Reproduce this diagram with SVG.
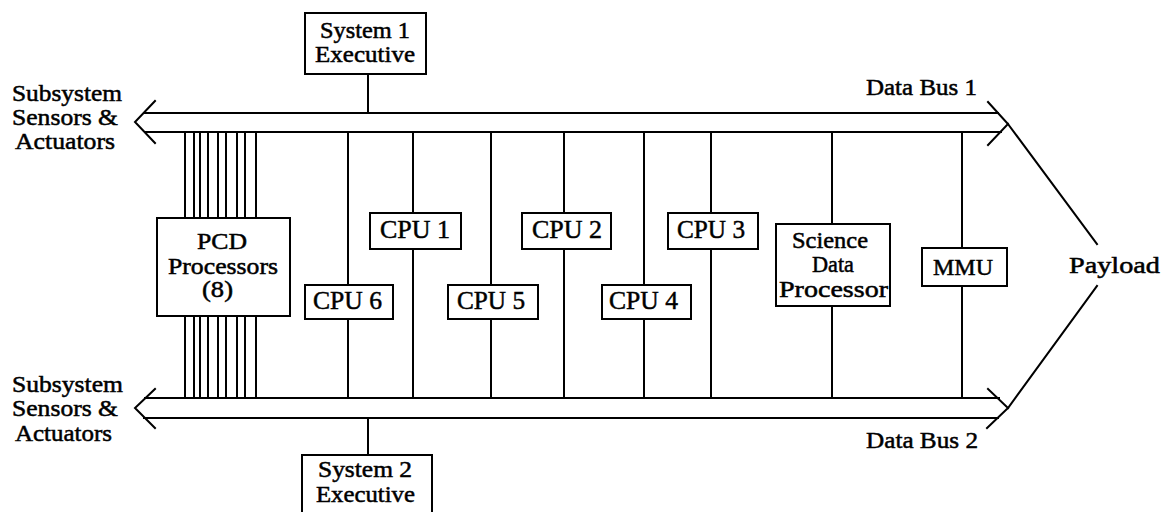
<svg xmlns="http://www.w3.org/2000/svg" width="1163" height="512" viewBox="0 0 1163 512">
<style>
.t{font-family:"Liberation Serif","Times New Roman",serif;font-size:23px;fill:#000;stroke:#000;stroke-width:0.5}
.c{font-size:26px}
.ln{stroke:#000;stroke-width:2;fill:none;stroke-linecap:square}
.bx{stroke:#000;stroke-width:2;fill:#fff}
</style>
<rect width="1163" height="512" fill="#fff"/>
<g id="connectors" class="ln">
  <line x1="144" y1="113" x2="998" y2="113"/>
  <line x1="145" y1="132" x2="1001" y2="132"/>
  <polyline points="155,101 135,122 155,143"/>
  <polyline points="988,102 1008,124 988,145"/>
  <line x1="145" y1="398" x2="999" y2="398"/>
  <line x1="144" y1="418" x2="998" y2="418"/>
  <polyline points="155,389 135,408 155,428"/>
  <polyline points="988,389 1008,408 987,428"/>
  <line x1="1008" y1="124" x2="1097" y2="244"/>
  <line x1="1008" y1="408" x2="1097" y2="286"/>
  <line x1="368" y1="74" x2="368" y2="113"/>
  <line x1="368" y1="418" x2="368" y2="455"/>
  <path d="M185,132V218M194,132V218M200,132V218M208,132V218M218,132V218M226,132V218M237,132V218M245,132V218M256,132V218"/>
  <path d="M185,316V398M194,316V398M200,316V398M208,316V398M218,316V398M226,316V398M237,316V398M245,316V398M256,316V398"/>
  <line x1="348" y1="132" x2="348" y2="398"/>
  <line x1="413" y1="132" x2="413" y2="398"/>
  <line x1="491" y1="132" x2="491" y2="398"/>
  <line x1="564" y1="132" x2="564" y2="398"/>
  <line x1="644" y1="132" x2="644" y2="398"/>
  <line x1="711" y1="132" x2="711" y2="398"/>
  <line x1="832" y1="132" x2="832" y2="398"/>
  <line x1="962" y1="132" x2="962" y2="398"/>
</g>
<g id="labels">
  <text class="t" x="12" y="101" textLength="110" lengthAdjust="spacingAndGlyphs">Subsystem</text>
  <text class="t" x="12" y="125" textLength="106" lengthAdjust="spacingAndGlyphs">Sensors &amp;</text>
  <text class="t" x="15" y="149" textLength="100" lengthAdjust="spacingAndGlyphs">Actuators</text>
  <text class="t" x="12" y="392" textLength="111" lengthAdjust="spacingAndGlyphs">Subsystem</text>
  <text class="t" x="12" y="416" textLength="106" lengthAdjust="spacingAndGlyphs">Sensors &amp;</text>
  <text class="t" x="15" y="441" textLength="97" lengthAdjust="spacingAndGlyphs">Actuators</text>
  <text class="t" x="866" y="95" textLength="111" lengthAdjust="spacingAndGlyphs">Data Bus 1</text>
  <text class="t" x="866" y="448" textLength="112" lengthAdjust="spacingAndGlyphs">Data Bus 2</text>
  <text class="t" x="1069" y="273" textLength="91" lengthAdjust="spacingAndGlyphs">Payload</text>
</g>
<g id="sys1">
  <rect class="bx" x="305" y="13" width="121" height="61"/>
  <text class="t" x="320" y="38" textLength="90" lengthAdjust="spacingAndGlyphs">System 1</text>
  <text class="t" x="315" y="62" textLength="100" lengthAdjust="spacingAndGlyphs">Executive</text>
</g>
<g id="sys2">
  <rect class="bx" x="302" y="455" width="130" height="70"/>
  <text class="t" x="318" y="477" textLength="94" lengthAdjust="spacingAndGlyphs">System 2</text>
  <text class="t" x="316" y="502" textLength="99" lengthAdjust="spacingAndGlyphs">Executive</text>
</g>
<g id="pcd">
  <rect class="bx" x="157" y="218" width="133" height="98"/>
  <text class="t" x="197" y="249" textLength="50" lengthAdjust="spacingAndGlyphs">PCD</text>
  <text class="t" x="168" y="274" textLength="110" lengthAdjust="spacingAndGlyphs">Processors</text>
  <text class="t" x="202" y="297" textLength="31" lengthAdjust="spacingAndGlyphs">(8)</text>
</g>
<g id="cpu6">
  <rect class="bx" x="305" y="285" width="88" height="34"/>
  <text class="t c" x="313" y="309" textLength="69" lengthAdjust="spacingAndGlyphs">CPU 6</text>
</g>
<g id="cpu1">
  <rect class="bx" x="370" y="213" width="91" height="36"/>
  <text class="t c" x="380" y="238" textLength="70" lengthAdjust="spacingAndGlyphs">CPU 1</text>
</g>
<g id="cpu5">
  <rect class="bx" x="448" y="285" width="90" height="34"/>
  <text class="t c" x="457" y="309" textLength="68" lengthAdjust="spacingAndGlyphs">CPU 5</text>
</g>
<g id="cpu2">
  <rect class="bx" x="522" y="213" width="89" height="36"/>
  <text class="t c" x="532" y="238" textLength="70" lengthAdjust="spacingAndGlyphs">CPU 2</text>
</g>
<g id="cpu4">
  <rect class="bx" x="602" y="285" width="89" height="34"/>
  <text class="t c" x="609" y="309" textLength="69" lengthAdjust="spacingAndGlyphs">CPU 4</text>
</g>
<g id="cpu3">
  <rect class="bx" x="668" y="213" width="90" height="36"/>
  <text class="t c" x="677" y="238" textLength="68" lengthAdjust="spacingAndGlyphs">CPU 3</text>
</g>
<g id="sdp">
  <rect class="bx" x="776" y="224" width="114" height="82"/>
  <text class="t" x="792" y="248" textLength="76" lengthAdjust="spacingAndGlyphs">Science</text>
  <text class="t" x="812" y="272" textLength="42" lengthAdjust="spacingAndGlyphs">Data</text>
  <text class="t" x="779" y="297" textLength="109" lengthAdjust="spacingAndGlyphs">Processor</text>
</g>
<g id="mmu">
  <rect class="bx" x="922" y="248" width="85" height="38"/>
  <text class="t" x="933" y="275" textLength="60" lengthAdjust="spacingAndGlyphs">MMU</text>
</g>
</svg>
